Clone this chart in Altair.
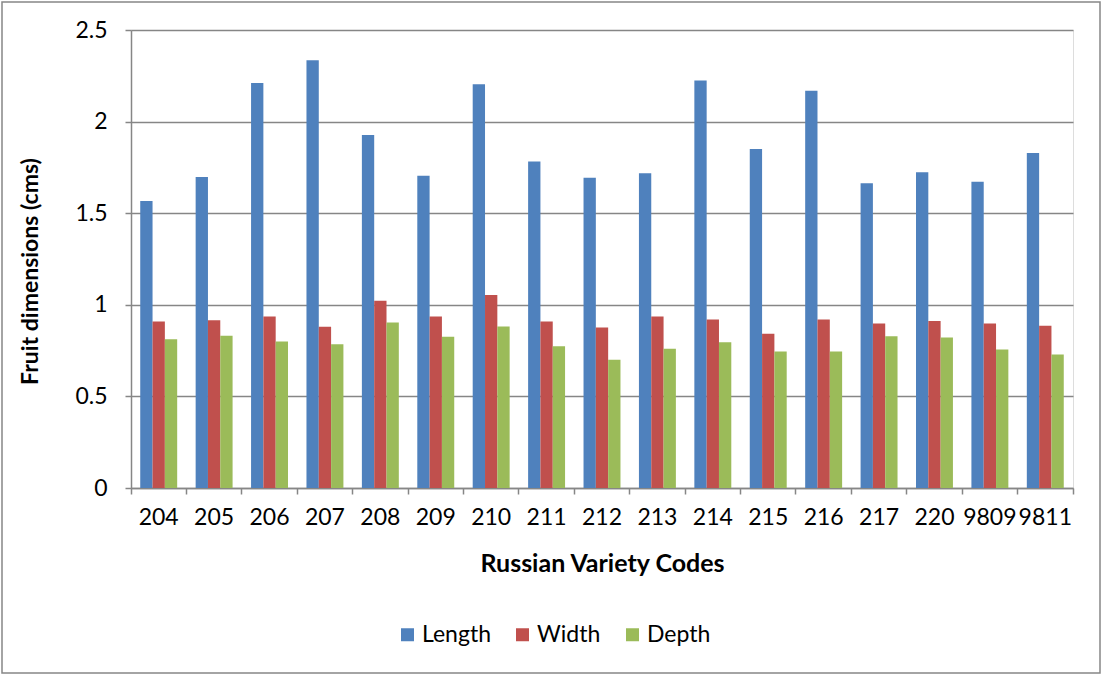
import altair as alt
import pandas as pd

codes = ["204", "205", "206", "207", "208", "209", "210", "211", "212",
         "213", "214", "215", "216", "217", "220", "9809", "9811"]
length = [1.567, 1.698, 2.211, 2.335, 1.927, 1.704, 2.204, 1.782, 1.693,
          1.718, 2.224, 1.851, 2.168, 1.664, 1.724, 1.671, 1.829]
width = [0.909, 0.916, 0.936, 0.880, 1.022, 0.936, 1.053, 0.909, 0.876,
         0.936, 0.920, 0.842, 0.920, 0.898, 0.912, 0.898, 0.885]
depth = [0.812, 0.831, 0.800, 0.785, 0.903, 0.825, 0.882, 0.774, 0.700,
         0.760, 0.796, 0.745, 0.745, 0.829, 0.821, 0.756, 0.729]
series = ["Length", "Width", "Depth"]
colors = ["#4F81BD", "#C0504D", "#9BBB59"]
y_ticks = [0, 0.5, 1, 1.5, 2, 2.5]

rows = []
for name, vals in zip(series, [length, width, depth]):
    for c, v in zip(codes, vals):
        rows.append({"code": c, "series": name, "value": v})
df = pd.DataFrame(rows)

W, H = 942, 458
FONT = "Lato"
GRID = "#868686"

bars = alt.Chart(df).mark_bar().encode(
    x=alt.X("code:N", sort=codes,
            scale=alt.Scale(paddingInner=0, paddingOuter=0),
            axis=alt.Axis(title="Russian Variety Codes", labelAngle=0,
                          bandPosition=1, tickExtra=True, tickSize=6,
                          tickColor=GRID, domainColor=GRID, tickWidth=1.5,
                          domainWidth=1.5,
                          labelFontSize=23, labelPadding=12, labelColor="black",
                          titleFontSize=25, titleFontWeight="bold",
                          titleColor="black", titleY=75, titleBaseline="middle",
                          grid=False)),
    xOffset=alt.XOffset("series:N", sort=series,
                        scale=alt.Scale(paddingInner=0, paddingOuter=0.75)),
    y=alt.Y("value:Q", scale=alt.Scale(domain=[0, 2.5], nice=False),
            axis=alt.Axis(values=y_ticks, format="~g", title="Fruit dimensions (cms)",
                          tickSize=6, tickColor=GRID, domainColor=GRID,
                          tickWidth=1.5, domainWidth=1.5,
                          gridColor=GRID, gridWidth=1.5,
                          labelFontSize=23, labelPadding=18, labelColor="black",
                          titleFontSize=23, titleFontWeight="bold",
                          titleColor="black", titleX=-101, titleY=H / 2 + 12,
                          titleAngle=-90, titleAlign="center",
                          titleBaseline="middle")),
    color=alt.Color("series:N", sort=series,
                    scale=alt.Scale(domain=series, range=colors),
                    legend=alt.Legend(title=None, orient="none", direction="horizontal",
                                      legendX=265, legendY=593,
                                      symbolType="square", symbolSize=169,
                                      symbolStrokeWidth=0,
                                      labelFontSize=23, labelColor="black",
                                      labelOffset=3, columnPadding=20)),
)

border = alt.Chart(pd.DataFrame({"a": [0]})).mark_rect(
    fillOpacity=0, stroke=GRID, strokeWidth=1.5
).encode(
    x=alt.value(-129), x2=alt.value(969), y=alt.value(-28), y2=alt.value(643)
)

chart = alt.layer(bars, border).properties(
    width=W, height=H,
    autosize=alt.AutoSizeParams(type="none"),
    padding={"left": 131, "top": 30, "right": 30, "bottom": 189},
    background="white",
).configure_view(stroke=None).configure(font=FONT)

chart.save("out.html", embed_options={"renderer": "svg", "actions": False})
